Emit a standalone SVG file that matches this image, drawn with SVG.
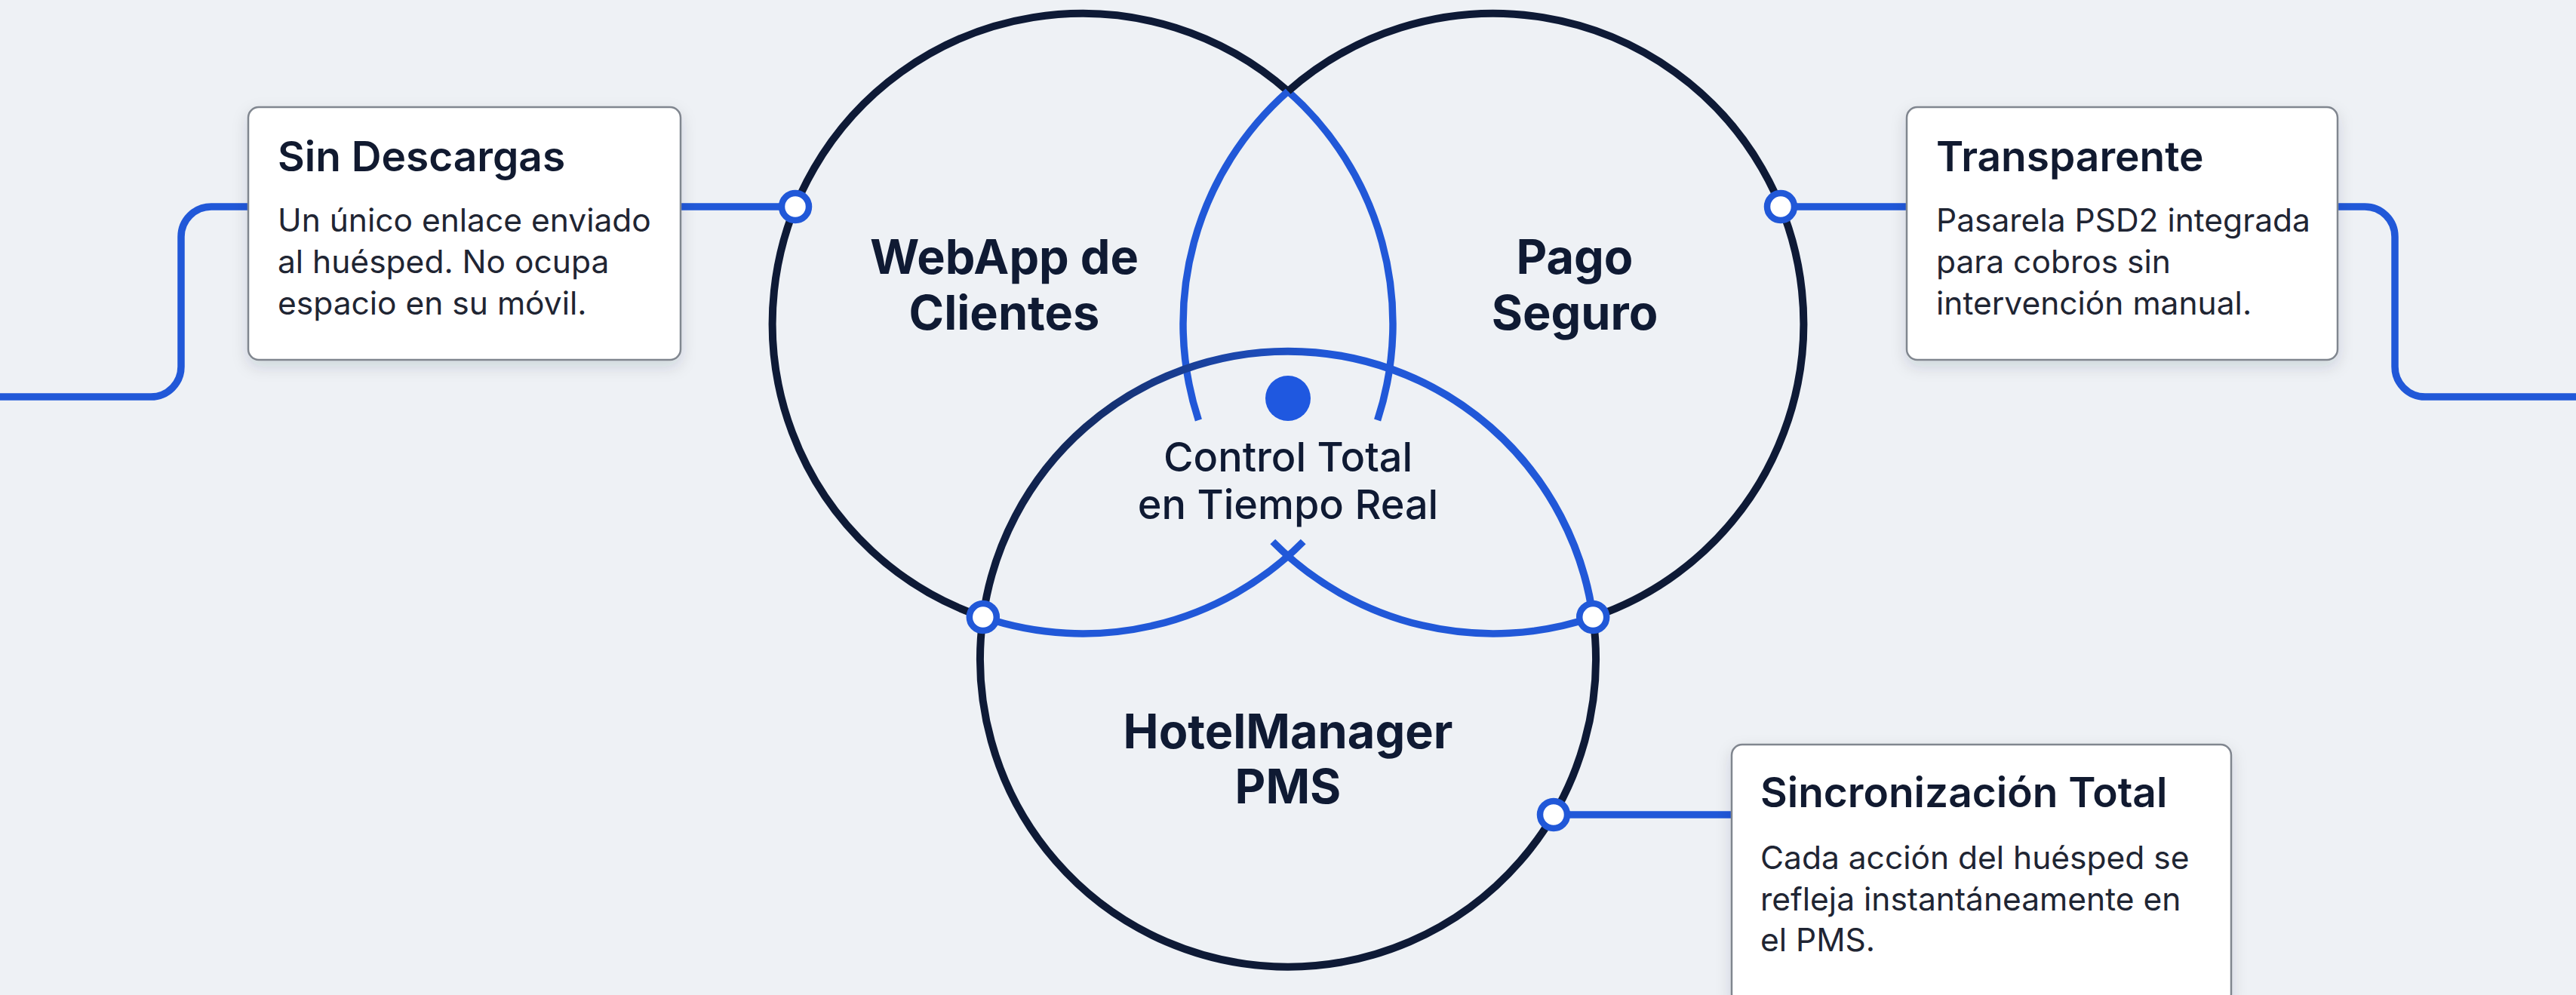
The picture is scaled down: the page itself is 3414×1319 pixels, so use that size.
<svg xmlns="http://www.w3.org/2000/svg" width="3414" height="1319" viewBox="0 0 3414 1319">
  <defs>
    <linearGradient id="gTop" gradientUnits="userSpaceOnUse" x1="1300" y1="0" x2="1760" y2="0">
      <stop offset="0" stop-color="#0e1a36"/>
      <stop offset="1" stop-color="#2158d8"/>
    </linearGradient>
    <filter id="shadow" x="-10%" y="-10%" width="120%" height="130%">
      <feDropShadow dx="0" dy="8" stdDeviation="10" flood-color="#1a2440" flood-opacity="0.14"/>
    </filter>
    <style>
      .navy { fill: none; stroke: #0e1a36; stroke-width: 10; }
      .blue { fill: none; stroke: #2158d8; stroke-width: 9.5; }
      .conn { fill: none; stroke: #2158d8; stroke-width: 9.5; stroke-linejoin: round; }
      .node { fill: #ffffff; stroke: #2158d8; stroke-width: 8.5; }
      .box { fill: #ffffff; stroke: #80868f; stroke-width: 2.5; filter: url(#shadow); }
      .title { font-family: Inter, "Liberation Sans", sans-serif; font-weight: 600; font-size: 55px; fill: #111a30; }
      .body { font-family: Inter, "Liberation Sans", sans-serif; font-weight: 400; font-size: 42.5px; fill: #1f2533; }
      .label { font-family: Inter, "Liberation Sans", sans-serif; font-weight: 700; font-size: 63px; fill: #0f1a33; text-anchor: middle; }
      .center { font-family: Inter, "Liberation Sans", sans-serif; font-weight: 500; font-size: 54px; fill: #0f1a33; text-anchor: middle; }
    </style>
  </defs>
  <rect width="3414" height="1319" fill="#eef1f5"/>

  <g id="connectors">
    <path class="conn" d="M0,526 H200 A40,40 0 0 0 240,486 V314 A40,40 0 0 1 280,274 H1054"/>
    <path class="conn" d="M2360,274 H3134 A40,40 0 0 1 3174,314 V486 A40,40 0 0 0 3214,526 H3414"/>
    <path class="conn" d="M2059,1080 H2300"/>
  </g>

  <g id="venn">
    <g id="circle-webapp">
      <path class="navy" d="M1707,121 A411,411 0 1 0 1302.8,818.1"/>
      <path class="blue" d="M1707,121 A411,411 0 0 1 1825.6,557"/>
      <path class="blue" d="M1302.8,818.1 A411,411 0 0 0 1727.2,718"/>
      <text class="label" x="1331" y="363">WebApp de</text>
      <text class="label" x="1331" y="437">Clientes</text>
    </g>
    <g id="circle-pago">
      <path class="navy" d="M1707,121 A411,411 0 1 1 2111.2,818.1"/>
      <path class="blue" d="M1707,121 A411,411 0 0 0 1588.4,557"/>
      <path class="blue" d="M2111.2,818.1 A411,411 0 0 1 1686.8,718"/>
      <text class="label" x="2087" y="363">Pago</text>
      <text class="label" x="2087" y="437">Seguro</text>
    </g>
    <g id="circle-pms">
      <path class="navy" d="M2111.2,818.1 A408,408 0 1 1 1302.8,818.1"/>
      <path d="M1302.8,818.1 A408,408 0 0 1 2111.2,818.1" fill="none" stroke="url(#gTop)" stroke-width="10"/>
      <text class="label" x="1707" y="992">HotelManager</text>
      <text class="label" x="1707" y="1065">PMS</text>
    </g>
    <g id="center-control">
      <circle cx="1707" cy="528" r="30" fill="#1f58e0"/>
      <text class="center" x="1707" y="625">Control Total</text>
      <text class="center" x="1707" y="688">en Tiempo Real</text>
    </g>
    <g id="nodes">
      <circle class="node" cx="1054" cy="274" r="18"/>
      <circle class="node" cx="2360" cy="274" r="18"/>
      <circle class="node" cx="1302.8" cy="818.1" r="18"/>
      <circle class="node" cx="2111.2" cy="818.1" r="18"/>
      <circle class="node" cx="2059" cy="1080" r="18"/>
    </g>
  </g>

  <g id="box-sin-descargas">
    <rect class="box" x="329" y="142" width="573" height="335" rx="14"/>
    <text class="title" x="368" y="227">Sin Descargas</text>
    <text class="body" x="368" y="307">Un único enlace enviado</text>
    <text class="body" x="368" y="362">al huésped. No ocupa</text>
    <text class="body" x="368" y="417">espacio en su móvil.</text>
  </g>

  <g id="box-transparente">
    <rect class="box" x="2527" y="142" width="571" height="335" rx="14"/>
    <text class="title" x="2566" y="227">Transparente</text>
    <text class="body" x="2566" y="307">Pasarela PSD2 integrada</text>
    <text class="body" x="2566" y="362">para cobros sin</text>
    <text class="body" x="2566" y="417">intervención manual.</text>
  </g>

  <g id="box-sincronizacion">
    <rect class="box" x="2295" y="987" width="662" height="345" rx="14"/>
    <text class="title" x="2333" y="1070">Sincronización Total</text>
    <text class="body" x="2333" y="1152">Cada acción del huésped se</text>
    <text class="body" x="2333" y="1207">refleja instantáneamente en</text>
    <text class="body" x="2333" y="1261">el PMS.</text>
  </g>
</svg>
